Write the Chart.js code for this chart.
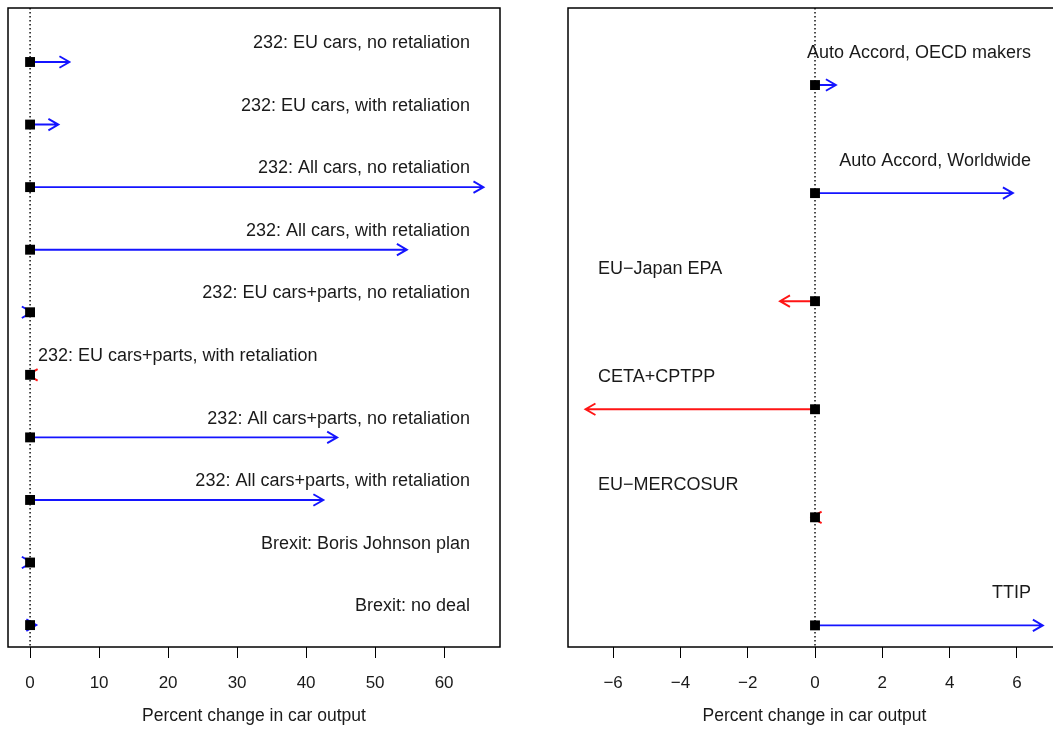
<!DOCTYPE html>
<html>
<head>
<meta charset="utf-8">
<script src="https://cdn.jsdelivr.net/npm/chart.js@4.4.1/dist/chart.umd.min.js"></script>
<style>
  html, body { margin: 0; padding: 0; background: #fff; overflow: hidden; width: 1053px; height: 737px; }
  canvas { position: absolute; top: 0; }
  #tariffs { left: 0; }
  #deals { left: 540px; }
</style>
</head>
<body>
<canvas id="tariffs" width="530" height="737"></canvas>
<canvas id="deals" width="560" height="737"></canvas>
<script>
// Section 232 tariffs and Brexit scenarios (percent change in car output)
const tariffScenarios = [
  "232: EU cars, no retaliation",
  "232: EU cars, with retaliation",
  "232: All cars, no retaliation",
  "232: All cars, with retaliation",
  "232: EU cars+parts, no retaliation",
  "232: EU cars+parts, with retaliation",
  "232: All cars+parts, no retaliation",
  "232: All cars+parts, with retaliation",
  "Brexit: Boris Johnson plan",
  "Brexit: no deal"
];
const tariffChange = [5.7, 4.1, 65.7, 54.6, 0.25, -0.35, 44.5, 42.5, 0.25, 0.9];
const tariffTicks = [0, 10, 20, 30, 40, 50, 60];

// Trade agreements (percent change in car output)
const dealScenarios = [
  "Auto Accord, OECD makers",
  "Auto Accord, Worldwide",
  "EU\u2212Japan EPA",
  "CETA+CPTPP",
  "EU\u2212MERCOSUR",
  "TTIP"
];
const dealChange = [0.62, 5.88, -1.04, -6.82, -0.1, 6.77];
const dealTicks = [-6, -4, -2, 0, 2, 4, 6];

const FONT = "'Liberation Sans', Arial, sans-serif";
const TEXT = '#1a1a1a';
const UP = '#1414ff';
const DOWN = '#ff1414';

// Zero reference line, arrows from the origin, scenario labels and the frame
const arrowPlugin = {
  id: 'arrows',
  beforeDatasetsDraw(chart) {
    const { ctx, chartArea: a, scales: { x, y } } = chart;
    const opts = chart.options.plugins.arrows;
    ctx.save();
    ctx.beginPath();
    ctx.rect(a.left, a.top, a.width, a.height);
    ctx.clip();
    const x0 = x.getPixelForValue(0);
    ctx.strokeStyle = '#000';
    ctx.lineWidth = 1.4;
    ctx.setLineDash([1.5, 2.5]);
    ctx.beginPath();
    ctx.moveTo(x0, a.top);
    ctx.lineTo(x0, a.bottom);
    ctx.stroke();
    ctx.setLineDash([]);
    const head = 11.5, cos = Math.cos(Math.PI / 6), sin = Math.sin(Math.PI / 6);
    opts.values.forEach((v, i) => {
      const yy = y.getPixelForValue(i + 1);
      const x1 = x.getPixelForValue(v);
      const dir = v >= 0 ? 1 : -1;
      ctx.strokeStyle = v >= 0 ? UP : DOWN;
      ctx.lineWidth = 1.9;
      ctx.beginPath();
      ctx.moveTo(x0, yy);
      ctx.lineTo(x1, yy);
      ctx.moveTo(x1 - dir * head * cos, yy - head * sin);
      ctx.lineTo(x1, yy);
      ctx.lineTo(x1 - dir * head * cos, yy + head * sin);
      ctx.stroke();
    });
    ctx.restore();
  },
  afterDatasetsDraw(chart) {
    const { ctx, chartArea: a, scales: { y } } = chart;
    const opts = chart.options.plugins.arrows;
    ctx.save();
    ctx.font = '18px ' + FONT;
    ctx.fillStyle = TEXT;
    ctx.textBaseline = 'middle';
    opts.labels.forEach((t, i) => {
      const yy = y.getPixelForValue(i + 1 - 0.3);
      if (opts.values[i] >= 0) {
        ctx.textAlign = 'right';
        ctx.fillText(t, a.right - opts.inset, yy);
      } else {
        ctx.textAlign = 'left';
        ctx.fillText(t, a.left + opts.inset, yy);
      }
    });
    ctx.strokeStyle = '#000';
    ctx.lineWidth = 1.5;
    ctx.strokeRect(a.left, a.top, a.width, a.height);
    ctx.restore();
  }
};

function makePanel(id, labels, values, ticks, xMin, xMax, yMin, yMax, pad) {
  return new Chart(document.getElementById(id), {
    type: 'scatter',
    data: {
      datasets: [{
        data: values.map((v, i) => ({ x: 0, y: i + 1 })),
        pointStyle: 'rect',
        pointRadius: 7,
        backgroundColor: '#000',
        borderWidth: 0
      }]
    },
    options: {
      responsive: false,
      animation: false,
      events: [],
      layout: { padding: pad },
      plugins: {
        legend: { display: false },
        tooltip: { enabled: false },
        arrows: { values: values, labels: labels, inset: 30 }
      },
      scales: {
        x: {
          type: 'linear',
          min: xMin,
          max: xMax,
          afterBuildTicks: s => { s.ticks = ticks.map(v => ({ value: v })); },
          afterFit: s => { s.height = 90; },
          grid: { drawOnChartArea: false, drawTicks: true, tickLength: 11, color: '#000', lineWidth: 1 },
          border: { display: false },
          ticks: {
            padding: 15,
            color: TEXT,
            maxRotation: 0,
            autoSkip: false,
            font: { family: FONT, size: 17 },
            callback: v => String(v).replace('-', '\u2212')
          },
          title: {
            display: true,
            text: 'Percent change in car output',
            color: TEXT,
            font: { family: FONT, size: 17.5 },
            padding: { top: 0, bottom: 10 }
          }
        },
        y: {
          type: 'linear',
          display: false,
          reverse: true,
          min: yMin,
          max: yMax
        }
      }
    },
    plugins: [arrowPlugin]
  });
}

makePanel('tariffs', tariffScenarios, tariffChange, tariffTicks,
  -3.2, 68.1, 0.137, 10.35, { left: 8, top: 8, right: 30, bottom: 0 });
makePanel('deals', dealScenarios, dealChange, dealTicks,
  -7.34, 7.31, 0.287, 6.2, { left: 28, top: 8, right: 39, bottom: 0 });
</script>
</body>
</html>
